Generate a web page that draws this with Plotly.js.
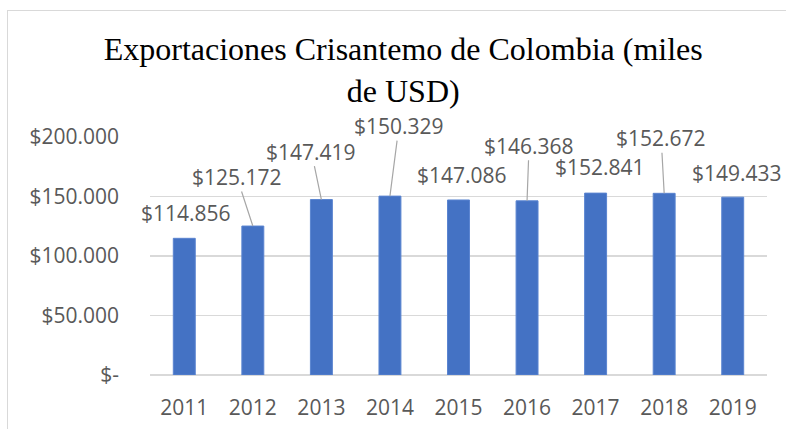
<!DOCTYPE html>
<html>
<head>
<meta charset="utf-8">
<script src="https://cdn.plot.ly/plotly-3.0.1.min.js"></script>
<style>
  html, body { margin: 0; padding: 0; background: #fff; }
  #wrap { position: relative; width: 786px; height: 429px; overflow: hidden; }
  #chart { position: absolute; left: 0; top: 0; width: 786px; height: 429px; }
  #frame { position: absolute; left: 7px; top: 10px; width: 800px; height: 440px;
           border-left: 1.5px solid #d9d9d9; border-top: 1.5px solid #d9d9d9; pointer-events: none; }
</style>
</head>
<body>
<div id="wrap">
  <div id="chart"></div>
  <div id="frame"></div>
</div>
<script>
// Data
const years = ['2011', '2012', '2013', '2014', '2015', '2016', '2017', '2018', '2019'];
const exportsValues = [114856, 125172, 147419, 150329, 147086, 146368, 152841, 152672, 149433];
const yTickVals = [0, 50000, 100000, 150000, 200000];
const yTickText = ['$-', '$50.000', '$100.000', '$150.000', '$200.000'];

// Label placement (pixel offsets from the bar top) and whether a leader line is drawn
const labelAx = [2, -16, -10, 9, 3, 2, 4, -3, 4];
const labelAy = [-25, -49, -48, -70, -25, -55, -26, -55, -24];
const labelLeader = [false, true, true, true, false, true, false, true, false];

function fmt(v) {
  return '$' + String(v).replace(/\B(?=(\d{3})+(?!\d))/g, '.');
}

const grey = '#595959';
const labelFont = { family: 'Open Sans, sans-serif', size: 21, color: grey };

const annotations = years.map((yr, i) => ({
  x: i, y: exportsValues[i], xref: 'x', yref: 'y',
  text: fmt(exportsValues[i]),
  showarrow: true, arrowhead: 0, arrowwidth: 1.2,
  arrowcolor: labelLeader[i] ? '#a6a6a6' : 'rgba(0,0,0,0)',
  standoff: 0, startstandoff: 0,
  ax: labelAx[i], ay: labelAy[i],
  font: labelFont, borderpad: 0
}));

const trace = {
  type: 'bar', x: years, y: exportsValues,
  marker: { color: '#4472C4', line: { color: '#5a84d0', width: 1 } },
  hoverinfo: 'skip'
};

const layout = {
  width: 786, height: 429,
  margin: { l: 150, r: 19, t: 137, b: 54 },
  paper_bgcolor: '#ffffff', plot_bgcolor: '#ffffff',
  showlegend: false,
  bargap: 0.68,
  title: {
    text: 'Exportaciones Crisantemo de Colombia (miles<br>de USD)',
    font: { family: 'Liberation Serif, Times New Roman, serif', size: 32, color: '#000' },
    xref: 'container', yref: 'container', x: 0.513, xanchor: 'center',
    y: 1 - 60 / 429, yanchor: 'top'
  },
  xaxis: {
    type: 'category', range: [-0.5, 8.5], autorange: false,
    showgrid: false, zeroline: false, showline: false,
    ticks: '', tickfont: labelFont, ticklabelstandoff: 18, fixedrange: true
  },
  yaxis: {
    range: [0, 200000], autorange: false, tickvals: yTickVals, ticktext: yTickText,
    showgrid: true, gridcolor: '#d9d9d9', gridwidth: 1.5,
    zeroline: true, zerolinecolor: '#d9d9d9', zerolinewidth: 1.5,
    showline: false, ticks: '', tickfont: labelFont, ticklabelstandoff: 30, fixedrange: true
  },
  annotations: annotations
};

Plotly.newPlot('chart', [trace], layout, { displayModeBar: false, staticPlot: true });
</script>
</body>
</html>
